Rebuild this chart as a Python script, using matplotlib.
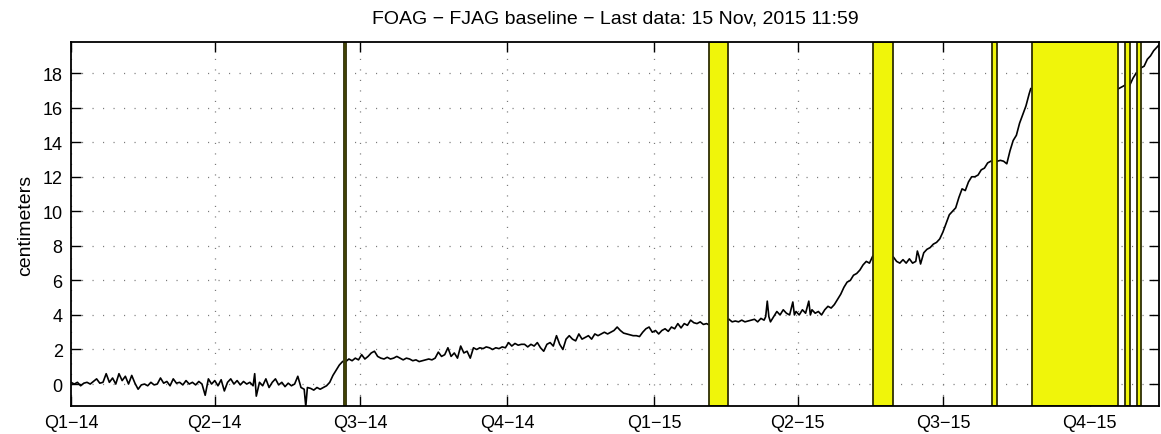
import numpy as np
import matplotlib
matplotlib.use("Agg")
import matplotlib.pyplot as plt
import matplotlib.dates as mdates

plt.rcParams['font.family'] = ['Liberation Sans', 'DejaVu Sans']

BASE = np.datetime64('2014-01-01')

# ---- data: day offsets from 2014-01-01 and baseline change (cm) ----
days_a = [0, 2, 4, 6, 8, 10, 12, 14, 16, 18, 20, 22, 24, 26, 28, 30, 32, 34, 36, 38,
          40, 42, 44, 46, 48, 50, 52, 54, 56, 58, 60, 62, 64, 66, 68, 70, 72, 74, 76, 78,
          80, 82, 84, 86, 88, 90, 92, 94, 96, 98, 100, 102, 104, 106, 108, 110, 112, 114,
          115, 116, 118, 120, 122, 124, 126, 128, 130, 132, 134, 136, 138, 140, 142, 144,
          146, 147, 148, 150, 152, 154, 156, 158, 160, 162, 164, 166, 168, 170]
vals_a = [0.1, 0.0, 0.1, -0.1, 0.05, 0.1, 0.0, 0.15, 0.3, 0.05, 0.1, 0.6, 0.1, 0.35, 0.0,
          0.6, 0.2, 0.45, 0.0, 0.5, 0.05, -0.3, -0.05, 0.0, -0.1, 0.1, -0.05, 0.0, 0.35, 0.05,
          0.15, -0.1, 0.3, 0.05, 0.1, -0.05, 0.2, 0.0, 0.1, -0.05, 0.15, 0.0, -0.65, 0.3, 0.0,
          0.2, -0.1, 0.25, -0.4, 0.1, 0.3, 0.0, 0.2, -0.05, 0.15, 0.0, 0.1, -0.1, 0.6, -0.7,
          0.1, -0.1, 0.3, -0.2, 0.1, 0.3, -0.05, 0.1, -0.15, 0.05, -0.1, 0.0, 0.45, -0.2,
          -0.3, -1.3, -0.2, -0.25, -0.35, -0.2, -0.3, -0.2, -0.1, 0.1, 0.5, 0.8, 1.1, 1.3]

days_b = [172, 174, 176, 178, 180, 182, 184, 186, 188, 190, 192, 194, 196, 198, 200, 202,
          204, 206, 208, 210, 212, 214, 216, 218, 220, 222, 224, 226, 228, 230, 232, 234,
          236, 238, 240, 242, 244, 246, 248, 250, 252, 254, 256, 258, 260, 262, 264, 266,
          268, 270, 272, 274, 276, 278, 280, 282, 284, 286, 288, 290, 292, 294, 296, 298,
          300, 302, 304, 306, 308, 310, 312, 314, 316, 318, 320, 322, 324, 326, 328, 330,
          332, 334, 336, 338, 340, 342, 344, 346, 348, 350, 352, 354, 356, 358, 360, 362,
          364, 366, 368, 370, 372, 374, 376, 378, 380, 382, 384, 386, 388, 390, 392, 394,
          396, 398, 399]
vals_b = [1.3, 1.45, 1.35, 1.5, 1.4, 1.7, 1.45, 1.6, 1.8, 1.9, 1.6, 1.5, 1.45, 1.55, 1.45,
          1.5, 1.6, 1.5, 1.4, 1.5, 1.45, 1.35, 1.4, 1.3, 1.35, 1.4, 1.45, 1.4, 1.5, 1.85, 1.6,
          1.7, 2.1, 1.6, 1.8, 1.5, 2.2, 1.8, 1.9, 1.5, 2.1, 2.0, 2.1, 2.05, 2.15, 2.1, 2.0,
          2.1, 2.05, 2.15, 2.1, 2.4, 2.2, 2.35, 2.25, 2.3, 2.3, 2.15, 2.3, 2.2, 2.4, 2.1, 1.9,
          2.3, 2.4, 2.2, 2.8, 2.3, 2.0, 2.6, 2.8, 2.6, 2.5, 2.9, 2.6, 2.7, 2.8, 2.6, 2.9, 2.8,
          2.9, 3.0, 2.9, 3.0, 3.1, 3.3, 3.1, 2.95, 2.9, 2.85, 2.8, 2.8, 2.75, 3.0, 3.2, 3.3,
          3.0, 3.1, 2.9, 3.1, 3.2, 3.05, 3.3, 3.2, 3.5, 3.25, 3.5, 3.4, 3.7, 3.55, 3.5, 3.6,
          3.45, 3.5, 3.45]

days_c = [412, 414, 416, 418, 420, 422, 424, 426, 428, 430, 432, 434, 435, 436, 437, 438,
          440, 442, 444, 446, 448, 450, 452, 453, 454, 456, 458, 460, 462, 463, 464, 466,
          468, 470, 472, 474, 476, 478, 480, 482, 484, 486, 488, 490, 492, 494, 496, 498,
          500, 502]
vals_c = [3.75, 3.6, 3.65, 3.6, 3.7, 3.6, 3.65, 3.7, 3.75, 3.6, 3.8, 3.7, 3.9, 4.8, 3.9,
          3.6, 3.9, 4.2, 4.0, 4.3, 4.1, 4.0, 4.75, 4.0, 4.2, 4.0, 4.3, 4.1, 4.8, 4.0, 4.3,
          4.1, 4.2, 4.0, 4.3, 4.5, 4.4, 4.6, 4.9, 5.2, 5.6, 5.9, 6.0, 6.3, 6.4, 6.6, 6.9,
          7.1, 7.0, 7.4]

days_d = [515, 517, 519, 521, 523, 525, 527, 529, 530, 531, 532, 534, 536, 538, 540, 542,
          544, 546, 548, 550, 552, 554, 556, 558, 560, 562, 564, 566, 568, 570, 572, 574, 576]
vals_d = [7.35, 7.1, 7.0, 7.2, 7.0, 7.25, 7.0, 7.1, 7.7, 7.4, 6.95, 7.6, 7.8, 7.9, 8.1,
          8.2, 8.4, 8.8, 9.3, 9.8, 10.0, 10.2, 10.8, 11.3, 11.2, 11.7, 12.0, 12.0, 12.1,
          12.4, 12.5, 12.8, 12.9]

days_e = [580, 582, 584, 586, 588, 590, 592, 594, 596, 598, 600, 601]
vals_e = [12.9, 12.95, 12.9, 12.75, 13.5, 14.1, 14.4, 15.1, 15.6, 16.1, 16.8, 17.1]

days_f = [656, 658, 660]
vals_f = [17.1, 17.2, 17.3]

days_g = [663, 665, 667]
vals_g = [17.3, 17.7, 18.0]

days_h = [670, 672, 674, 676, 678, 680, 682]
vals_h = [18.3, 18.4, 18.8, 19.0, 19.3, 19.5, 19.7]

# data gaps (shaded)
gap_starts = ['2014-06-21T00', '2015-02-04T16', '2015-05-18T00', '2015-07-31T12',
              '2015-08-26T00', '2015-10-23T00', '2015-10-30T07']
gap_ends = ['2014-06-22T00', '2015-02-16T05', '2015-05-31T00', '2015-08-03T14',
            '2015-10-18T19', '2015-10-26T00', '2015-11-01T19']

tick_dates = ['2014-01-01', '2014-04-01', '2014-07-01', '2014-10-01',
              '2015-01-01', '2015-04-01', '2015-07-01', '2015-10-01']
tick_labels = ['Q1\u221214', 'Q2\u221214', 'Q3\u221214', 'Q4\u221214',
               'Q1\u221215', 'Q2\u221215', 'Q3\u221215', 'Q4\u221215']
y_ticks = [0, 2, 4, 6, 8, 10, 12, 14, 16, 18]

title = 'FOAG \u2212 FJAG baseline \u2212 Last data: 15 Nov, 2015 11:59'

# ---- figure ----
fig = plt.figure(figsize=(11.61, 4.35), dpi=100)
ax = fig.add_axes([0.0612, 0.0644, 0.9371, 0.8367])

segments = [(days_a, vals_a), (days_b, vals_b), (days_c, vals_c), (days_d, vals_d),
            (days_e, vals_e), (days_f, vals_f), (days_g, vals_g), (days_h, vals_h)]
for d, v in segments:
    dates = BASE + np.array(d).astype('timedelta64[D]')
    ax.plot(dates.astype('datetime64[s]').astype(object), v, color='black', lw=1.2, zorder=3)

for s, e in zip(gap_starts, gap_ends):
    ax.axvspan(np.datetime64(s).astype(object), np.datetime64(e).astype(object),
               facecolor='#f0f50a', edgecolor='#2e2e05', lw=1.3, zorder=4)

tick_objs = [np.datetime64(t).astype(object) for t in tick_dates]
ax.set_xticks(mdates.date2num(tick_objs))
ax.set_xticklabels(tick_labels)
ax.set_yticks(y_ticks)
ax.set_xlim(mdates.date2num(np.datetime64('2014-01-01').astype(object)),
            mdates.date2num(np.datetime64('2015-11-13T08').astype(object)))
ax.set_ylim(-1.27, 19.8)

ax.grid(True, color='#7a7a7a', lw=0.9, linestyle=(0, (0.9, 7.5)), zorder=1)
ax.tick_params(direction='in', length=7, width=1.0, top=True, right=True,
               labelsize=13, pad=6, colors='black')
for sp in ax.spines.values():
    sp.set_linewidth(1.3)
    sp.set_zorder(5)

ax.set_ylabel('centimeters', fontsize=14, labelpad=6)
ax.set_title(title, fontsize=14, pad=14)

fig.savefig('out.png', dpi=100)
